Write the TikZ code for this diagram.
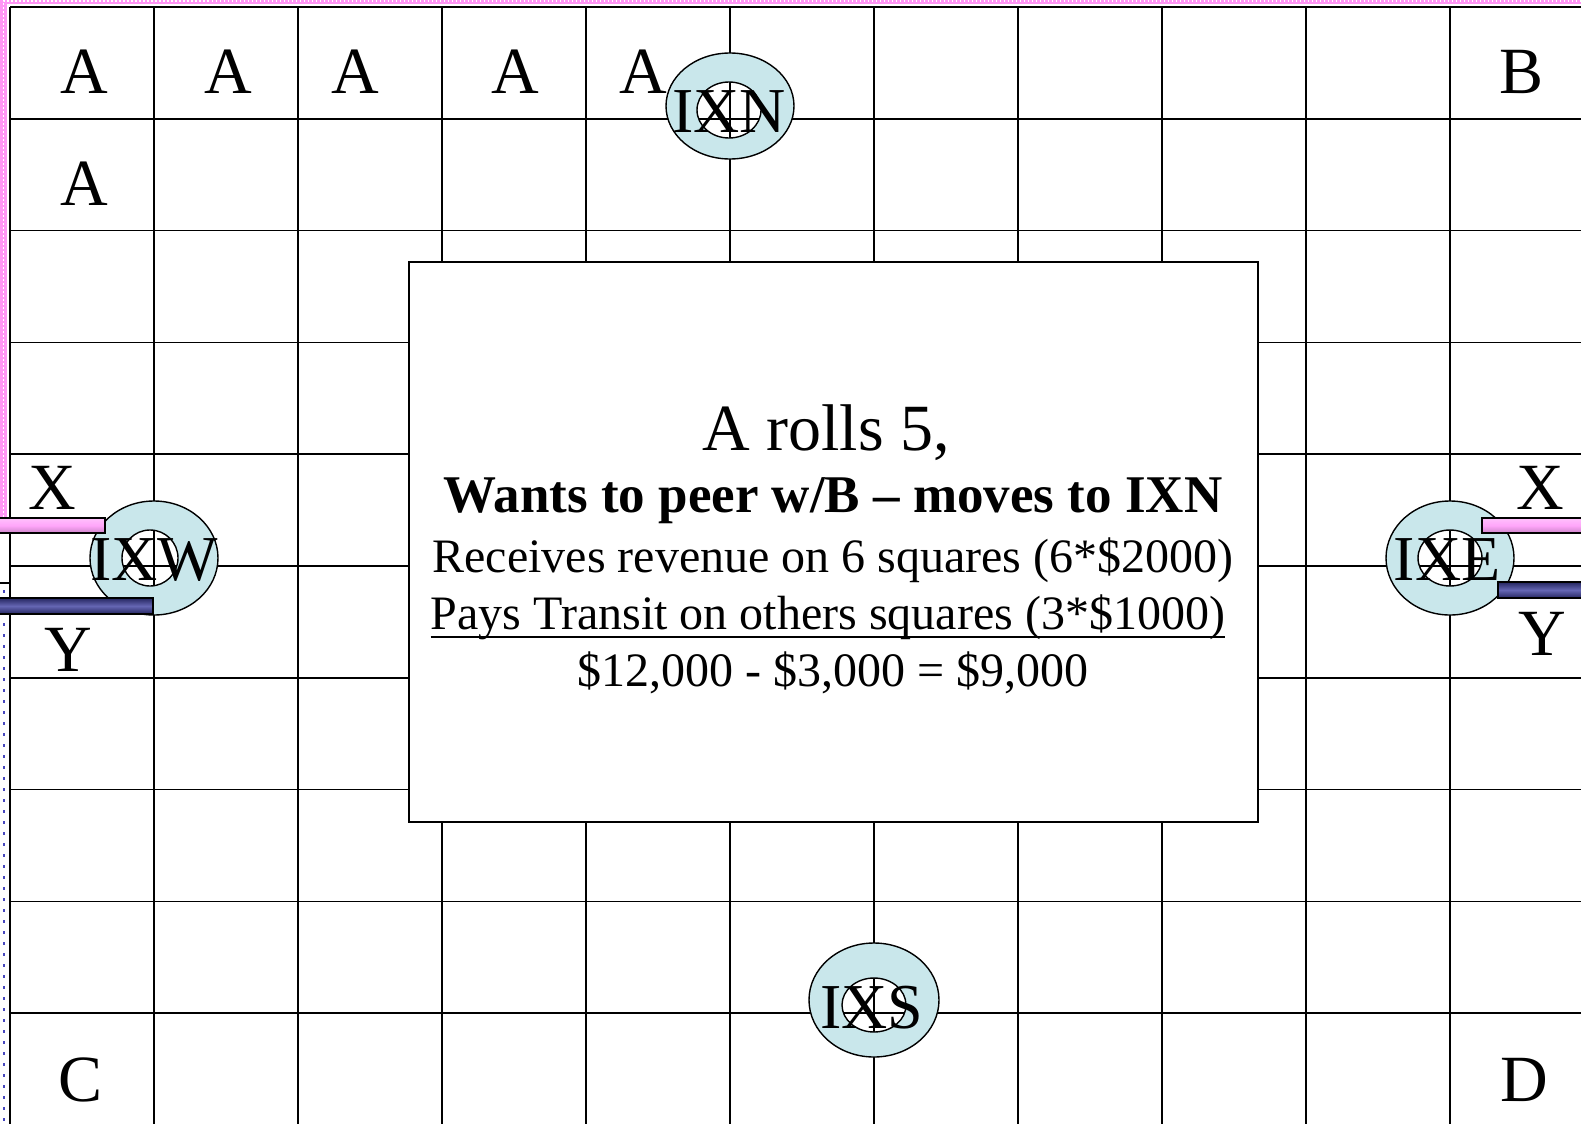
\documentclass[tikz,border=0pt]{standalone}
\usepackage{fontspec}
\setmainfont{Liberation Serif}
\usepackage{xcolor}
\usetikzlibrary{shapes,positioning}

\definecolor{ixcyan}{RGB}{201,231,235}
\definecolor{xpink}{RGB}{255,166,250}
\definecolor{ypurple}{RGB}{62,64,160}
\definecolor{edgepink}{RGB}{255,150,245}
\definecolor{edgeblue}{RGB}{70,70,190}

\begin{document}
\begin{tikzpicture}[
    x=1pt, y=-1pt,
    gridline/.style={line width=1.5pt},
    player/.style={anchor=base, inner sep=0pt, font=\fontsize{66}{70}\selectfont},
    ixring/.style={fill=ixcyan, draw, line width=1.4pt, even odd rule},
    ixname/.style={inner sep=0pt, font=\fontsize{64}{66}\selectfont},
    xbar/.style={draw, line width=1.2pt, top color=xpink!70!white, bottom color=xpink!80!black, middle color=xpink},
    ybar/.style={draw, line width=1.2pt, top color=ypurple!60!black, bottom color=ypurple!60!black, middle color=ypurple!80!white},
    panel/.style={rectangle, draw, fill=white, line width=1.5pt, minimum width=849pt, minimum height=560pt},
    say/.style={anchor=base, inner sep=0pt, font=\fontsize{48}{52}\selectfont}
]
    \useasboundingbox (0,0) rectangle (1581,1124);

    % Board
    \foreach \i in {0,...,10}
        \draw[gridline] ({10+144*\i},7) -- ({10+144*\i},1124);
    \foreach \j in {0,...,9}
        \draw[gridline] (10,{7+111.8*\j}) -- (1581,{7+111.8*\j});

    % Edges of the page
    \draw[edgepink, line width=7pt] (3.5,517) -- (3.5,1) -- (1581,1);
    \draw[white, line width=1.8pt, dash pattern=on 1.6pt off 2.4pt] (3.5,517) -- (3.5,1) -- (1581,1);
    \draw[edgeblue, line width=2.5pt, dash pattern=on 2.5pt off 8.5pt] (4,590) -- (4,1124);
    \draw[line width=1.2pt] (0,583) -- (10,583);

    % Text box
    \node[panel] (box) at (833.5,542) {};
    \node[say, font=\fontsize{66}{70}\selectfont] (roll) at (826,450) {A rolls 5,};
    \node[say, font=\fontsize{53}{56}\selectfont\bfseries] (wants) at (833,512) {Wants to peer w/B – moves to IXN};
    \node[say] (gets) at (833,572) {Receives revenue on 6 squares (6*\$2000)};
    \node[say] (pays) at (828,629) {Pays Transit on others squares (3*\$1000)};
    \node[say] (total) at (833,686) {\$12,000 - \$3,000 = \$9,000};
    \draw[line width=1.3pt] ([yshift=-8pt]pays.base west) -- ([yshift=-8pt]pays.base east);

    % Exchange points
    \path[ixring] (730,106) ellipse [x radius=64, y radius=53] (729,110) ellipse [x radius=32, y radius=28];
    \path[ixring] (154,558) ellipse [x radius=64, y radius=57] (150,558) ellipse [x radius=28, y radius=28];
    \path[ixring] (1450,558) ellipse [x radius=64, y radius=57] (1450,558) ellipse [x radius=32, y radius=28];
    \path[ixring] (874,1000) ellipse [x radius=65, y radius=57] (874,1005) ellipse [x radius=32, y radius=27];

    % Links X and Y
    \draw[xbar] (-2,518) rectangle (105,533);
    \draw[ybar] (-2,598) rectangle (153,614);
    \draw[xbar] (1482,518) rectangle (1584,533);
    \draw[ybar] (1498,582) rectangle (1584,598);

    \node[ixname] (ixn) at (729,112) {IXN};
    \node[ixname] (ixw) at (154,560) {IXW};
    \node[ixname] (ixe) at (1447,560) {IXE};
    \node[ixname] (ixs) at (872,1008) {IXS};

    % Players
    \node[player] (a1) at (84,93) {A};
    \node[player] (a2) at (228,93) {A};
    \node[player] (a3) at (355,93) {A};
    \node[player] (a4) at (515,93) {A};
    \node[player] (a5) at (643,93) {A};
    \node[player] (a6) at (84,205) {A};
    \node[player] (b) at (1521,93) {B};
    \node[player] (c) at (81,1101) {C};
    \node[player] (d) at (1524,1101) {D};
    \node[player] (xw) at (52,509) {X};
    \node[player] (yw) at (68,671) {Y};
    \node[player] (xe) at (1540,509) {X};
    \node[player] (ye) at (1542,655) {Y};
\end{tikzpicture}
\end{document}
